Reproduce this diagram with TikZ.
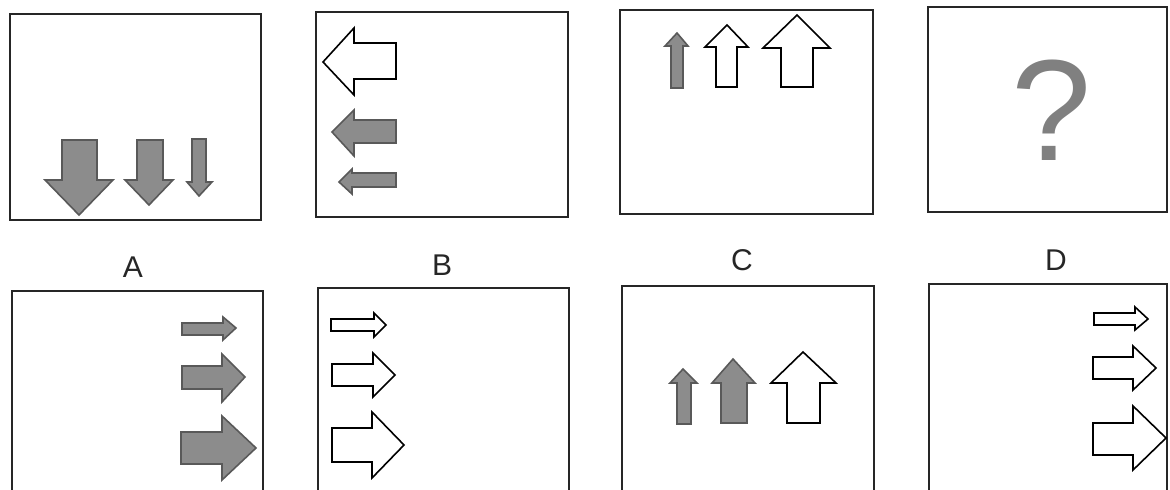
\documentclass[tikz,border=0pt]{standalone}
\usepackage{fontspec}
\setmainfont{Liberation Sans}
\begin{document}
\begin{tikzpicture}[x=0.5pt,y=-0.5pt,
  panel/.style={draw=black!85,line width=1pt},
  whitearrow/.style={draw=black,fill=white,line width=0.8pt,line join=miter},
  grayarrow/.style={draw=black!65,fill=black!45,line width=0.8pt,line join=miter},
  lbl/.style={font=\fontsize{15}{15}\selectfont,text=black!85,inner sep=0pt}]
\useasboundingbox (0,0) rectangle (1170,490);
% top row panels
\draw[panel] (10,14) rectangle (261,220);
\draw[panel] (316,12) rectangle (568,217);
\draw[panel] (620,10) rectangle (873,214);
\draw[panel] (928,7) rectangle (1167,212);
% bottom row panels (cut at bottom)
\draw[panel] (12,490) -- (12,291) -- (263,291) -- (263,490);
\draw[panel] (318,490) -- (318,288) -- (569,288) -- (569,490);
\draw[panel] (622,490) -- (622,286) -- (874,286) -- (874,490);
\draw[panel] (929,490) -- (929,284) -- (1167,284) -- (1167,490);
% labels
\node[lbl] (la) at (133,267) {A};
\node[lbl] (lb) at (442,265) {B};
\node[lbl] (lc) at (742,260) {C};
\node[lbl] (ld) at (1056,260) {D};
% question mark
\node[inner sep=0pt,text=black!50,font=\fontsize{72}{72}\selectfont] (q) at (1052,110) {?};
% panel 1: down arrows
\draw[grayarrow] (62,140)--(97,140)--(97,180)--(113,180)--(79,215)--(45,180)--(62,180)--cycle;
\draw[grayarrow] (137,140)--(163,140)--(163,180)--(173,180)--(149,205)--(125,180)--(137,180)--cycle;
\draw[grayarrow] (192,139)--(206,139)--(206,182)--(212,182)--(199,196)--(187,182)--(192,182)--cycle;
% panel 2: left arrows
\draw[whitearrow] (396,43)--(354,43)--(354,28)--(323,62)--(354,95)--(354,79)--(396,79)--cycle;
\draw[grayarrow] (396,120)--(354,120)--(354,110)--(332,132)--(354,156)--(354,143)--(396,143)--cycle;
\draw[grayarrow] (396,173)--(352,173)--(352,169)--(339,182)--(352,194)--(352,187)--(396,187)--cycle;
% panel 3: up arrows
\draw[grayarrow] (671,88)--(671,46)--(665,46)--(677,33)--(688,46)--(683,46)--(683,88)--cycle;
\draw[whitearrow] (716,87)--(716,47)--(705,47)--(727,25)--(748,47)--(737,47)--(737,87)--cycle;
\draw[whitearrow] (781,87)--(781,48)--(763,48)--(797,15)--(830,48)--(813,48)--(813,87)--cycle;
% option A: right arrows gray
\draw[grayarrow] (182,323)--(223,323)--(223,317)--(236,328)--(223,340)--(223,335)--(182,335)--cycle;
\draw[grayarrow] (182,366)--(222,366)--(222,354)--(245,377)--(222,402)--(222,389)--(182,389)--cycle;
\draw[grayarrow] (181,432)--(222,432)--(222,416)--(256,448)--(222,480)--(222,464)--(181,464)--cycle;
% option B: right arrows white
\draw[whitearrow] (331,319)--(374,319)--(374,313)--(386,325)--(374,337)--(374,331)--(331,331)--cycle;
\draw[whitearrow] (332,364)--(373,364)--(373,353)--(395,375)--(373,397)--(373,386)--(332,386)--cycle;
\draw[whitearrow] (332,428)--(372,428)--(372,412)--(404,445)--(372,478)--(372,462)--(332,462)--cycle;
% option C: up arrows
\draw[grayarrow] (677,424)--(677,383)--(670,383)--(683,369)--(697,383)--(691,383)--(691,424)--cycle;
\draw[grayarrow] (721,423)--(721,383)--(712,383)--(733,359)--(755,383)--(747,383)--(747,423)--cycle;
\draw[whitearrow] (787,423)--(787,383)--(771,383)--(803,352)--(836,383)--(820,383)--(820,423)--cycle;
% option D: right arrows white
\draw[whitearrow] (1094,313)--(1135,313)--(1135,307)--(1148,319)--(1135,330)--(1135,325)--(1094,325)--cycle;
\draw[whitearrow] (1093,357)--(1133,357)--(1133,346)--(1156,368)--(1133,390)--(1133,379)--(1093,379)--cycle;
\draw[whitearrow] (1093,423)--(1133,423)--(1133,406)--(1166,438)--(1133,470)--(1133,455)--(1093,455)--cycle;
\end{tikzpicture}
\end{document}
